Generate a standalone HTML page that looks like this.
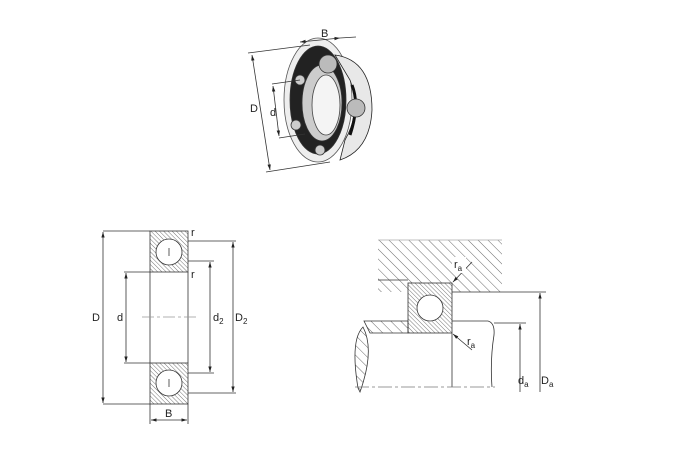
<!DOCTYPE html>
<html><head><style>body{margin:0;background:#fff}svg{display:block}text{font-family:"Liberation Sans",sans-serif;font-size:11px;fill:#222}</style></head>
<body>
<svg width="678" height="462" viewBox="0 0 678 462" xmlns="http://www.w3.org/2000/svg">
<defs>
<pattern id="h1" width="3" height="3" patternUnits="userSpaceOnUse" patternTransform="rotate(-45)"><line x1="0" y1="0" x2="0" y2="3" stroke="#777" stroke-width="1"/></pattern>
<pattern id="h2" width="7" height="7" patternUnits="userSpaceOnUse" patternTransform="rotate(-45)"><line x1="0" y1="0" x2="0" y2="7" stroke="#444" stroke-width="0.8"/></pattern>
<marker id="a" viewBox="0 0 10 10" refX="10" refY="5" markerWidth="7" markerHeight="7" orient="auto-start-reverse"><path d="M0,2 L10,5 L0,8z" fill="#222"/></marker>
</defs>
<g stroke="#333" stroke-width="0.8" fill="none">
<!-- 3D bearing -->
<ellipse cx="318" cy="100" rx="34" ry="62" fill="#eee" stroke="#555"/>
<ellipse cx="318" cy="100" rx="28" ry="54" fill="#222"/>
<ellipse cx="322" cy="103" rx="20" ry="38" fill="#ccc"/>
<ellipse cx="326" cy="105" rx="14" ry="30" fill="#f4f4f4" stroke="#444"/>
<path d="M335,55 Q372,60 372,110 Q370,150 340,160 L345,140 Q362,110 350,80 Z" stroke="#222" fill="#e8e8e8"/>
<path d="M352,85 Q360,105 350,135" stroke="#111" stroke-width="3"/>
<circle cx="328" cy="64" r="9" fill="#bbb"/><circle cx="356" cy="108" r="9" fill="#bbb"/>
<circle cx="300" cy="80" r="5" fill="#ccc"/><circle cx="296" cy="125" r="5" fill="#ccc"/><circle cx="320" cy="150" r="5" fill="#ccc"/>
<line x1="248" y1="53" x2="310" y2="45"/><line x1="266" y1="172" x2="330" y2="162"/>
<line x1="252" y1="55" x2="270" y2="170" marker-start="url(#a)" marker-end="url(#a)"/>
<line x1="272" y1="84" x2="300" y2="80"/><line x1="279" y1="138" x2="305" y2="134"/>
<line x1="273" y1="86" x2="279" y2="136" marker-start="url(#a)" marker-end="url(#a)"/>
<line x1="300" y1="42" x2="340" y2="38" marker-start="url(#a)" marker-end="url(#a)"/>
<line x1="340" y1="38" x2="356" y2="37"/>
<!-- left drawing -->
<rect x="150" y="231" width="38" height="41" fill="url(#h1)"/>
<rect x="150" y="363" width="38" height="41" fill="url(#h1)"/>
<line x1="150" y1="272" x2="150" y2="363"/><line x1="188" y1="272" x2="188" y2="363"/>
<circle cx="169" cy="252" r="13" fill="#fff"/><circle cx="169" cy="383" r="13" fill="#fff"/>
<line x1="169" y1="248" x2="169" y2="256"/><line x1="169" y1="379" x2="169" y2="387"/>
<line x1="103" y1="231" x2="150" y2="231"/><line x1="103" y1="404" x2="150" y2="404"/>
<line x1="103" y1="232" x2="103" y2="403" marker-start="url(#a)" marker-end="url(#a)"/>
<line x1="124" y1="272" x2="150" y2="272"/><line x1="124" y1="363" x2="150" y2="363"/>
<line x1="126" y1="273" x2="126" y2="362" marker-start="url(#a)" marker-end="url(#a)"/>
<line x1="188" y1="261" x2="214" y2="261"/><line x1="188" y1="373" x2="214" y2="373"/>
<line x1="210" y1="262" x2="210" y2="372" marker-start="url(#a)" marker-end="url(#a)"/>
<line x1="188" y1="241" x2="236" y2="241"/><line x1="188" y1="393" x2="236" y2="393"/>
<line x1="233" y1="242" x2="233" y2="392" marker-start="url(#a)" marker-end="url(#a)"/>
<line x1="150" y1="404" x2="150" y2="424"/><line x1="188" y1="404" x2="188" y2="424"/>
<line x1="151" y1="420" x2="187" y2="420" marker-start="url(#a)" marker-end="url(#a)"/>
<line x1="142" y1="317" x2="196" y2="317" stroke="#999" stroke-dasharray="12,3,3,3"/>
<!-- right drawing -->
<path d="M378,240 H502 V292 H452 V283 H408 V292 H378 V280 Z" fill="url(#h2)" stroke="none"/>
<line x1="378" y1="240" x2="502" y2="240" stroke="#aaa"/>
<line x1="378" y1="280" x2="408" y2="280"/><line x1="452" y1="292" x2="502" y2="292"/>
<rect x="408" y="283" width="44" height="50" fill="url(#h1)"/>
<circle cx="430" cy="308" r="13" fill="#fff"/>
<path d="M364,321 H408 V333 H370 Z" fill="url(#h2)"/>
<path d="M452,321 H488 Q495,323 494,335 Q490,360 492,387"/>
<line x1="452" y1="333" x2="452" y2="387"/>
<path d="M363,327 Q350,340 358,388 L360,392 Q375,350 363,327Z" fill="url(#h2)"/>
<line x1="355" y1="387" x2="495" y2="387" stroke="#777" stroke-dasharray="14,3,3,3"/>
<line x1="502" y1="292" x2="546" y2="292"/><line x1="494" y1="323" x2="526" y2="323"/>
<line x1="540" y1="392" x2="540" y2="293" marker-end="url(#a)"/>
<line x1="520" y1="392" x2="520" y2="324" marker-end="url(#a)"/>
<line x1="472" y1="262" x2="453" y2="282" marker-end="url(#a)"/>
<line x1="472" y1="350" x2="453" y2="334" marker-end="url(#a)"/>
</g>
<rect x="452" y="257" width="14" height="16" fill="#fff"/>
<text x="321" y="37">B</text><text x="250" y="112">D</text><text x="270" y="116">d</text>
<text x="92" y="321">D</text><text x="117" y="321">d</text>
<text x="213" y="321">d<tspan font-size="8" dy="3">2</tspan></text>
<text x="235" y="321">D<tspan font-size="8" dy="3">2</tspan></text>
<text x="165" y="417">B</text><text x="191" y="236">r</text><text x="191" y="278">r</text>
<text x="454" y="268">r<tspan font-size="8" dy="3">a</tspan></text>
<text x="467" y="345">r<tspan font-size="8" dy="3">a</tspan></text>
<text x="518" y="384">d<tspan font-size="8" dy="3">a</tspan></text>
<text x="541" y="384">D<tspan font-size="8" dy="3">a</tspan></text>
</svg>
</body></html>
